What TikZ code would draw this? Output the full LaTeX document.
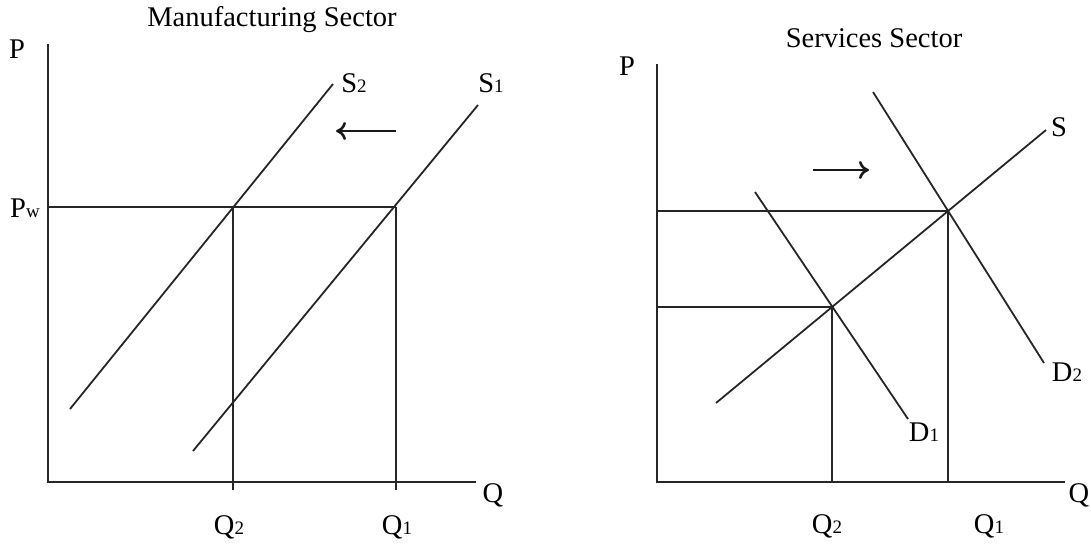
\documentclass[tikz,border=0pt]{standalone}
\usepackage{fontspec}
\setmainfont{Liberation Serif}
\usetikzlibrary{arrows.meta}
\newcommand{\sbs}[1]{{\fontsize{19}{19}\selectfont #1}}
\begin{document}
\begin{tikzpicture}[x=1pt,y=-1pt,
  axis/.style={line width=2.6pt, draw=black!85},
  curve/.style={line width=1.8pt, draw=black!85},
  guide/.style={line width=1.8pt, draw=black!85},
  shiftarrow/.style={line width=2.6pt, draw=black!90, -{To[length=10pt,width=18pt,line width=2.6pt]}},
  lbl/.style={anchor=base, inner sep=0pt, font=\fontsize{28.5}{28.5}\selectfont},
  ttl/.style={anchor=base, inner sep=0pt, font=\fontsize{28.5}{28.5}\selectfont}]
\useasboundingbox (0,0) rectangle (1091,546);
% ---------- Manufacturing sector ----------
\coordinate (mO) at (48,482);
\coordinate (mTop) at (48,44);
\coordinate (mRight) at (476,482);
\coordinate (mPw) at (48,207);
\coordinate (mE2) at (233,207);
\coordinate (mE1) at (396,207);
\coordinate (mB2) at (233,490);
\coordinate (mB1) at (396,490);
\coordinate (mS2a) at (70,409);
\coordinate (mS2b) at (333,84);
\coordinate (mS1a) at (193,451);
\coordinate (mS1b) at (478,105);
\coordinate (mArrA) at (396,131);
\coordinate (mArrB) at (336,131);

\draw[axis] (mTop) -- (mO) -- (mRight);
\draw[guide] (mPw) -- (mE1);
\draw[guide] (mE2) -- (mB2);
\draw[guide] (mE1) -- (mB1);
\draw[curve] (mS2a) -- (mS2b);
\draw[curve] (mS1a) -- (mS1b);
\draw[shiftarrow] (mArrA) -- (mArrB);

\node[ttl] (mTitle) at (272,26) {Manufacturing Sector};
\node[lbl] (mP) at (17,58) {P};
\node[lbl] (mPwl) at (25,217) {P\sbs{w}};
\node[lbl] (mS2l) at (354,92) {S\sbs{2}};
\node[lbl] (mS1l) at (491,92) {S\sbs{1}};
\node[lbl] (mQ) at (493,502) {Q};
\node[lbl] (mQ2) at (229,534) {Q\sbs{2}};
\node[lbl] (mQ1) at (397,534) {Q\sbs{1}};

% ---------- Services sector ----------
\coordinate (sO) at (657,482);
\coordinate (sTop) at (657,64);
\coordinate (sRight) at (1065,482);
\coordinate (sPh) at (657,211);
\coordinate (sPl) at (657,307);
\coordinate (sE2) at (948,211);
\coordinate (sE1) at (832,307);
\coordinate (sB2) at (948,482);
\coordinate (sB1) at (832,482);
\coordinate (sSa) at (716,403);
\coordinate (sSb) at (1046,130);
\coordinate (sD1a) at (755,192);
\coordinate (sD1b) at (908,419);
\coordinate (sD2a) at (873,92);
\coordinate (sD2b) at (1044,363);
\coordinate (sArrA) at (813,170);
\coordinate (sArrB) at (869,170);

\draw[axis] (sTop) -- (sO) -- (sRight);
\draw[guide] (sPh) -- (sE2) -- (sB2);
\draw[guide] (sPl) -- (sE1) -- (sB1);
\draw[curve] (sSa) -- (sSb);
\draw[curve] (sD1a) -- (sD1b);
\draw[curve] (sD2a) -- (sD2b);
\draw[shiftarrow] (sArrA) -- (sArrB);

\node[ttl] (sTitle) at (874,47) {Services Sector};
\node[lbl] (sP) at (627,75) {P};
\node[lbl] (sSl) at (1059,136) {S};
\node[lbl] (sD2l) at (1067,381) {D\sbs{2}};
\node[lbl] (sD1l) at (924,441) {D\sbs{1}};
\node[lbl] (sQ) at (1079,502) {Q};
\node[lbl] (sQ2) at (827,533) {Q\sbs{2}};
\node[lbl] (sQ1) at (989,533) {Q\sbs{1}};
\end{tikzpicture}
\end{document}
